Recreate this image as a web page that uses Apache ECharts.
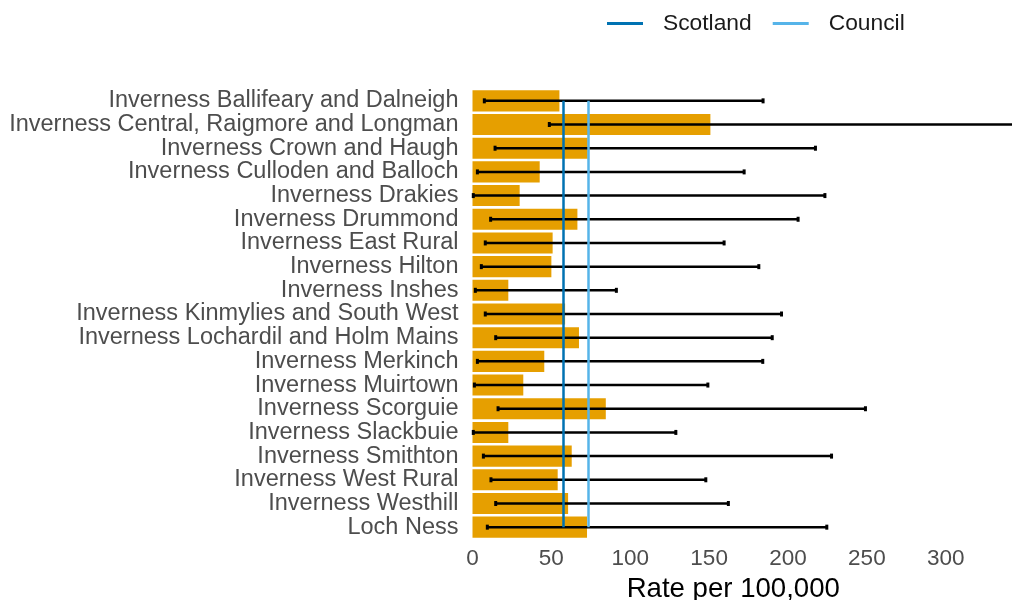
<!DOCTYPE html>
<html>
<head>
<meta charset="utf-8">
<script src="https://cdn.jsdelivr.net/npm/echarts@6/dist/echarts.min.js"></script>
<style>html,body{margin:0;padding:0;background:#fff}#c{width:1012px;height:600px}</style>
</head>
<body>
<div id="c"></div>
<script>
const categories = [
  'Inverness Ballifeary and Dalneigh',
  'Inverness Central, Raigmore and Longman',
  'Inverness Crown and Haugh',
  'Inverness Culloden and Balloch',
  'Inverness Drakies',
  'Inverness Drummond',
  'Inverness East Rural',
  'Inverness Hilton',
  'Inverness Inshes',
  'Inverness Kinmylies and South West',
  'Inverness Lochardil and Holm Mains',
  'Inverness Merkinch',
  'Inverness Muirtown',
  'Inverness Scorguie',
  'Inverness Slackbuie',
  'Inverness Smithton',
  'Inverness West Rural',
  'Inverness Westhill',
  'Loch Ness'
];
const rate  = [55.1, 150.8, 73.0, 42.6, 29.9, 66.5, 50.8, 50.0, 22.7, 58.7, 67.5, 45.5, 32.2, 84.5, 22.7, 62.9, 54.0, 60.6, 72.6];
const lower = [7.5, 48.7, 14.3, 3.1, 0.5, 11.5, 8.1, 5.6, 1.8, 8.1, 14.7, 3.1, 1.2, 16.2, 0.5, 6.9, 11.7, 14.7, 9.4];
const upper = [184.2, 380, 217.4, 172.2, 223.4, 206.4, 159.5, 181.5, 91.2, 195.9, 190.0, 184.0, 149.2, 249.1, 128.9, 227.6, 147.9, 162.2, 224.6];
const scotlandRate = 57.6;
const councilRate = 73.3;
const xTicks = [0, 50, 100, 150, 200, 250, 300];

const chart = echarts.init(document.getElementById('c'), null, {renderer: 'canvas'});
const font = 'Liberation Sans, Arial, sans-serif';
const last = categories.length - 1;

chart.setOption({
  animation: false,
  textStyle: {fontFamily: font},
  legend: {
    left: 602, top: 7,
    itemWidth: 36, itemHeight: 3, itemGap: 21,
    icon: 'rect',
    textStyle: {fontSize: 22.8, color: '#1a1a1a', fontFamily: font, padding: [0, 0, 0, 15]},
    data: ['Scotland', 'Council']
  },
  grid: {left: 472.5, right: 0, top: 89, bottom: 61, containLabel: false, outerBoundsMode: 'none'},
  xAxis: {
    type: 'value', min: 0, max: 342, interval: 50,
    axisLine: {show: false}, axisTick: {show: false}, splitLine: {show: false},
    axisLabel: {fontSize: 22.5, color: '#4d4d4d', margin: 8, fontFamily: font,
      formatter: v => xTicks.includes(v) ? String(v) : ''},
    name: 'Rate per 100,000', nameLocation: 'middle', nameGap: 33,
    nameTextStyle: {fontSize: 27.6, color: '#000', fontFamily: font, padding: [0, 18, 0, 0]}
  },
  yAxis: {
    type: 'category', data: categories, inverse: true,
    axisLine: {show: false}, axisTick: {show: false}, splitLine: {show: false},
    axisLabel: {interval: 0, fontSize: 23.5, color: '#4d4d4d', margin: 14, fontFamily: font}
  },
  series: [
    {
      type: 'bar', name: 'Rate', data: rate, barWidth: '89%',
      itemStyle: {color: '#E69F00'}, z: 1
    },
    {
      type: 'custom', name: 'CI', z: 3,
      data: categories.map((c, i) => [i, lower[i], upper[i]]),
      encode: {x: [1, 2], y: 0},
      renderItem: function (params, api) {
        const i = api.value(0);
        const p1 = api.coord([api.value(1), i]);
        const p2 = api.coord([api.value(2), i]);
        return {
          type: 'group',
          children: [
            {type: 'line', shape: {x1: p1[0], y1: p1[1], x2: p2[0], y2: p2[1]}, style: {stroke: '#000', lineWidth: 2.5}},
            {type: 'rect', shape: {x: p1[0] - 1.5, y: p1[1] - 2.5, width: 3, height: 5}, style: {fill: '#000'}},
            {type: 'rect', shape: {x: p2[0] - 1.5, y: p2[1] - 2.5, width: 3, height: 5}, style: {fill: '#000'}}
          ]
        };
      }
    },
    {
      type: 'line', name: 'Scotland', data: [], z: 4,
      itemStyle: {color: '#0072B2'}, lineStyle: {color: '#0072B2'},
      markLine: {
        silent: true, symbol: 'none', label: {show: false},
        lineStyle: {color: '#0072B2', width: 2.5, type: 'solid'},
        data: [[{coord: [scotlandRate, 0]}, {coord: [scotlandRate, last]}]]
      }
    },
    {
      type: 'line', name: 'Council', data: [], z: 4,
      itemStyle: {color: '#56B4E9'}, lineStyle: {color: '#56B4E9'},
      markLine: {
        silent: true, symbol: 'none', label: {show: false},
        lineStyle: {color: '#56B4E9', width: 2.5, type: 'solid'},
        data: [[{coord: [councilRate, 0]}, {coord: [councilRate, last]}]]
      }
    }
  ]
});
</script>
</body>
</html>
